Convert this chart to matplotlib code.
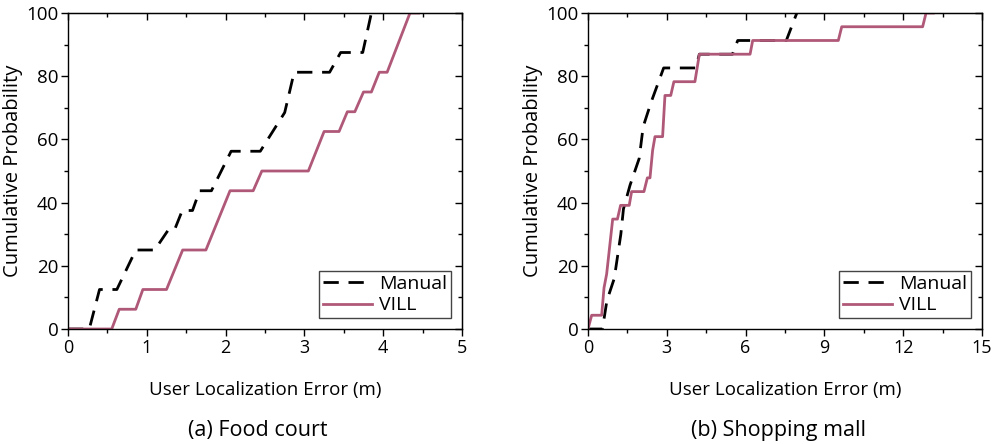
import numpy as np
import matplotlib
matplotlib.use('Agg')
import matplotlib.pyplot as plt
from matplotlib.ticker import MultipleLocator

plt.rcParams['font.family'] = ['Open Sans', 'DejaVu Sans']

# (a) Food court
food_vill_x = [0, 0.555, 0.65, 0.86, 0.95, 1.25, 1.455, 1.75, 2.056, 2.35, 2.46, 3.05,
               3.25, 3.44, 3.545, 3.64, 3.75, 3.85, 3.95, 4.05, 4.34, 4.45]
food_vill_y = [0, 0, 6.25, 6.25, 12.5, 12.5, 25, 25, 43.75, 43.75, 50, 50,
               62.5, 62.5, 68.75, 68.75, 75, 75, 81.25, 81.25, 100, 100]
food_manual_x = [0, 0.27, 0.40, 0.62, 0.86, 1.10, 1.27, 1.35, 1.45, 1.58, 1.67, 1.82,
                 2.07, 2.44, 2.75, 2.87, 3.32, 3.46, 3.74, 3.85]
food_manual_y = [0, 0, 12.5, 12.5, 25, 25, 31.25, 31.25, 37.5, 37.5, 43.75, 43.75,
                 56.25, 56.25, 68.5, 81.25, 81.25, 87.5, 87.5, 100]

# (b) Shopping mall
mall_vill_x = [0, 0.14, 0.52, 0.61, 0.71, 0.94, 1.12, 1.24, 1.57, 1.66, 2.13, 2.26, 2.36,
               2.46, 2.55, 2.84, 2.93, 3.15, 3.27, 4.07, 4.24, 6.17, 6.27, 9.53, 9.66,
               12.74, 12.87, 13.15]
mall_vill_y = [0, 4.35, 4.35, 13.04, 17.39, 34.78, 34.78, 39.13, 39.13, 43.48, 43.48, 47.83, 47.83,
               56.52, 60.87, 60.87, 73.91, 73.91, 78.26, 78.26, 86.96, 86.96, 91.3, 91.3, 95.65,
               95.65, 100, 100]
mall_manual_x = [0, 0.55, 0.72, 1.0, 1.25, 1.35, 1.6, 1.95, 2.1, 2.4, 2.88, 4.1, 4.24,
                 5.5, 5.7, 7.55, 7.95]
mall_manual_y = [0, 0, 9, 16, 30, 38, 45.5, 54, 64, 71.7, 82.61, 82.61, 86.96,
                 86.96, 91.3, 91.3, 100]

panels = [
    dict(mx=food_manual_x, my=food_manual_y, vx=food_vill_x, vy=food_vill_y,
         xmax=5, major=1, caption='(a) Food court'),
    dict(mx=mall_manual_x, my=mall_manual_y, vx=mall_vill_x, vy=mall_vill_y,
         xmax=15, major=3, caption='(b) Shopping mall'),
]

vill_color = '#B05878'

fig = plt.figure(figsize=(9.96, 4.44), dpi=100)
lefts = [68 / 996, 588 / 996]

for left, p in zip(lefts, panels):
    ax = fig.add_axes([left, 115 / 444, 394 / 996, 316 / 444])
    ax.plot(p['mx'], p['my'], color='black', lw=2.0, dashes=(5.5, 3.5), label='Manual')
    ax.plot(p['vx'], p['vy'], color=vill_color, lw=2.0, label='VILL')
    ax.set_xlim(0, p['xmax'])
    ax.set_ylim(0, 100)
    ax.xaxis.set_major_locator(MultipleLocator(p['major']))
    ax.xaxis.set_minor_locator(MultipleLocator(p['major'] / 2))
    ax.yaxis.set_major_locator(MultipleLocator(20))
    ax.yaxis.set_minor_locator(MultipleLocator(10))
    ax.tick_params(which='major', direction='out', length=5, width=1, labelsize=13, pad=2)
    ax.tick_params(axis='y', which='major', labelsize=13.5)
    ax.tick_params(which='minor', direction='out', length=3, width=1)
    for s in ax.spines.values():
        s.set_linewidth(1)

    # mirrored inward ticks on top and right
    top = ax.secondary_xaxis('top')
    top.xaxis.set_major_locator(MultipleLocator(p['major']))
    top.xaxis.set_minor_locator(MultipleLocator(p['major'] / 2))
    top.tick_params(which='major', direction='in', length=5, width=1, labeltop=False)
    top.tick_params(which='minor', direction='in', length=3, width=1)
    right = ax.secondary_yaxis('right')
    right.yaxis.set_major_locator(MultipleLocator(20))
    right.yaxis.set_minor_locator(MultipleLocator(10))
    right.tick_params(which='major', direction='in', length=5, width=1, labelright=False)
    right.tick_params(which='minor', direction='in', length=3, width=1)

    ax.set_xlabel('User Localization Error (m)', fontsize=13.5)
    ax.set_ylabel('Cumulative Probability', fontsize=14.5)
    ax.xaxis.set_label_coords(0.5, -0.165)
    ax.yaxis.set_label_coords(-0.114, 0.5)

    leg = ax.legend(loc='lower right', fontsize=14, frameon=True, fancybox=False,
                    framealpha=1, edgecolor='#444444', handlelength=2.5,
                    borderpad=0.2, labelspacing=0.2, handletextpad=0.4,
                    borderaxespad=0.55)
    leg.get_frame().set_linewidth(1)

    fig.text(left + 394 / 996 / 2 - 0.007, 14 / 444, p['caption'], fontsize=15.5,
             ha='center', va='center')

fig.savefig('out.png', dpi=100)
